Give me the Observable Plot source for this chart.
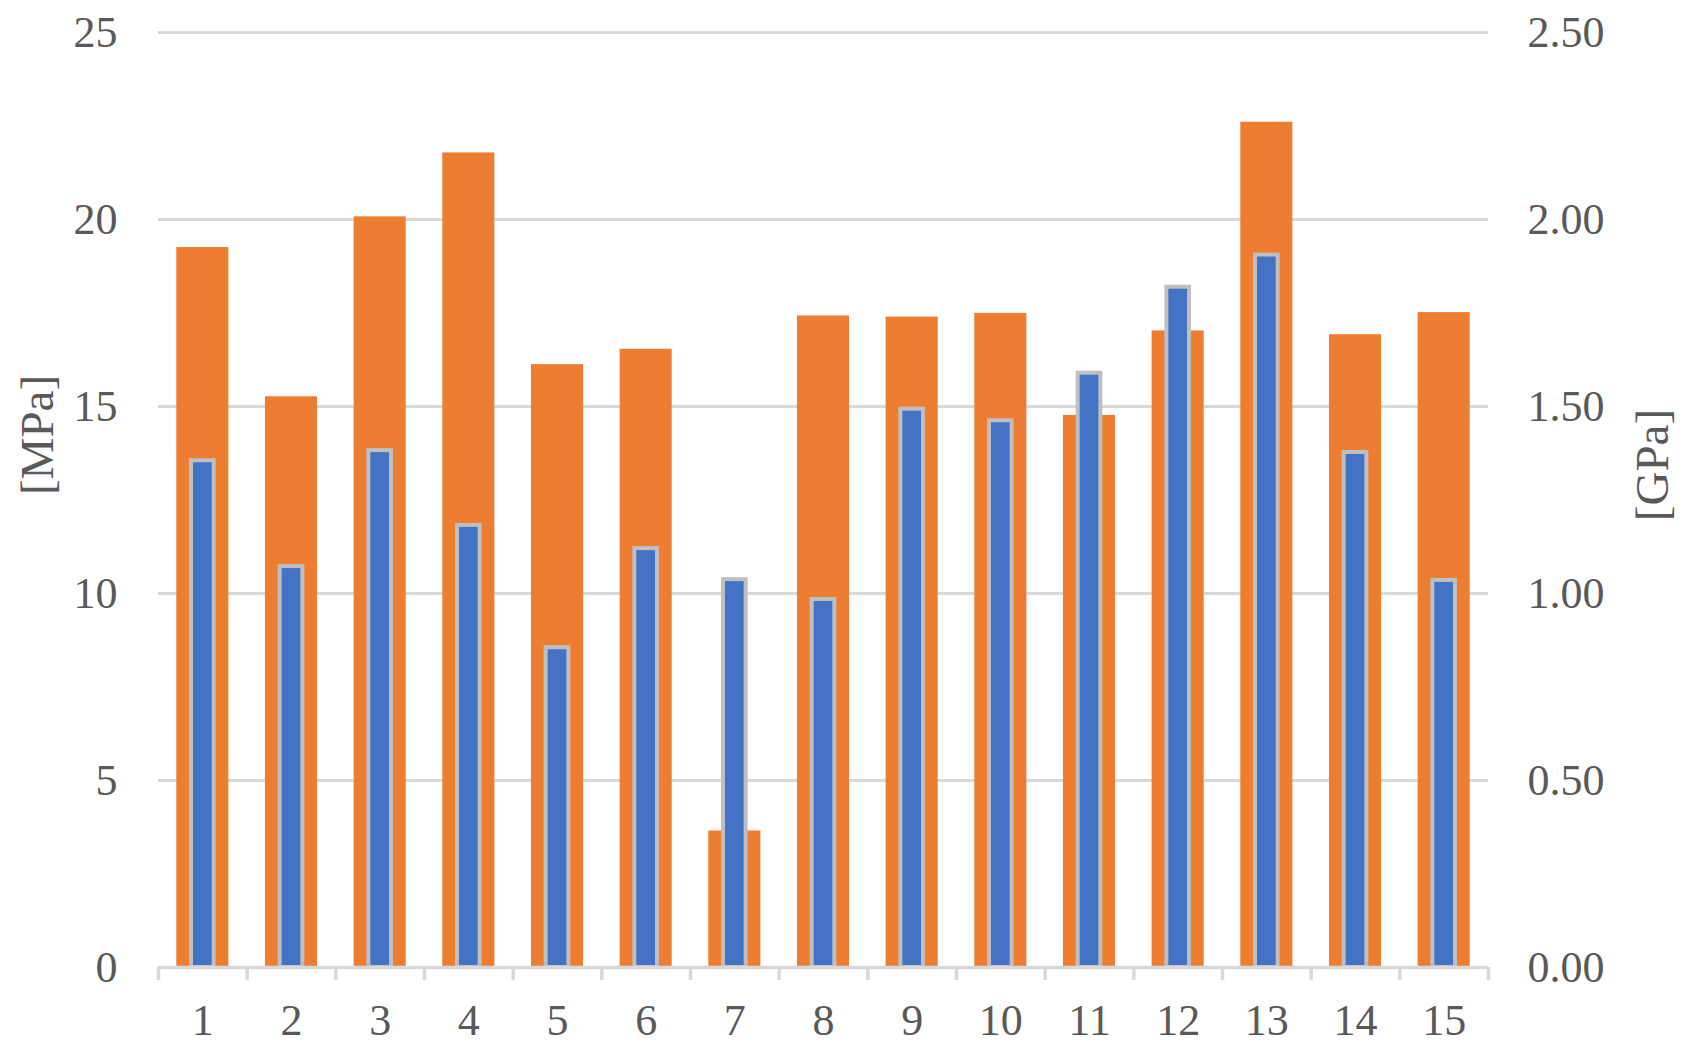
<!DOCTYPE html>
<html>
<head>
<meta charset="utf-8">
<script src="https://cdn.jsdelivr.net/npm/d3@7"></script>
<script src="https://cdn.jsdelivr.net/npm/@observablehq/plot@0.6"></script>
<style>
  html, body { margin: 0; padding: 0; background: #ffffff; }
  #chart { width: 1687px; height: 1050px; }
</style>
</head>
<body>
<div id="chart"></div>
<script>
// Sample numbers (x categories)
const samples = [1, 2, 3, 4, 5, 6, 7, 8, 9, 10, 11, 12, 13, 14, 15];
// Orange series, left axis [MPa]
const strengthMPa = [19.25, 15.26, 20.07, 21.78, 16.12, 16.53, 3.65, 17.42, 17.39, 17.49, 14.76, 17.02, 22.60, 16.92, 17.51];
// Blue series, right axis [GPa]
const modulusGPa = [1.355, 1.072, 1.382, 1.182, 0.855, 1.120, 1.037, 0.984, 1.493, 1.462, 1.589, 1.819, 1.905, 1.377, 1.035];
// Axis ticks
const mpaTicks = [0, 5, 10, 15, 20, 25];
const gpaTickLabels = ["0.00", "0.50", "1.00", "1.50", "2.00", "2.50"];
const leftTitle = "[MPa]";
const rightTitle = "[GPa]";

// ratio between the two y axes (25 MPa <-> 2.50 GPa)
const axisRatio = 10;

const rows = samples.map((s, i) => ({sample: s, mpa: strengthMPa[i], gpa: modulusGPa[i]}));
const boundaries = [samples[0] - 0.5, ...samples.map(s => s + 0.5)];

const grey = "#d9d9d9";
const textColor = "#595959";
const font = "Liberation Serif, Times New Roman, serif";
const fs = 44;

const chart = Plot.plot({
  width: 1687,
  height: 1050,
  marginLeft: 158,
  marginRight: 199,
  marginTop: 32,
  marginBottom: 83,
  style: {fontFamily: font, fontSize: fs + "px", background: "#ffffff", overflow: "visible"},
  x: {type: "linear", domain: [samples[0] - 0.5, samples[samples.length - 1] + 0.5], axis: null},
  y: {domain: [mpaTicks[0], mpaTicks[mpaTicks.length - 1]], axis: null},
  marks: [
    Plot.ruleY(mpaTicks.filter(t => t > 0), {stroke: grey, strokeWidth: 3}),
    Plot.rectY(rows, {
      x1: d => d.sample - 0.5, x2: d => d.sample + 0.5, y: "mpa",
      insetLeft: 18.3, insetRight: 18.3, fill: "#ED7D31"
    }),
    Plot.rectY(rows, {
      x1: d => d.sample - 0.5, x2: d => d.sample + 0.5, y: d => d.gpa * axisRatio,
      insetLeft: 33, insetRight: 33, fill: "#4472C4", stroke: "#BFBFBF", strokeWidth: 4
    }),
    Plot.ruleY([0], {stroke: grey, strokeWidth: 3.5}),
    Plot.axisX(boundaries, {
      anchor: "bottom", tickSize: 13, tickPadding: 0, stroke: grey, strokeWidth: 3.5,
      tickFormat: () => "", label: null
    }),
    Plot.axisX(samples, {
      anchor: "bottom", tickSize: 0, tickPadding: 36, color: textColor,
      fontSize: fs, fontFamily: font, label: null
    }),
    Plot.axisY(mpaTicks, {
      anchor: "left", tickSize: 0, tickPadding: 41, color: textColor,
      fontSize: fs, fontFamily: font, label: null
    }),
    Plot.axisY(mpaTicks, {
      anchor: "right", tickSize: 0, tickPadding: 39, color: textColor,
      fontSize: fs, fontFamily: font, label: null,
      tickFormat: d => gpaTickLabels[mpaTicks.indexOf(d)]
    }),
    Plot.text([leftTitle], {
      frameAnchor: "left", dx: -121, dy: -65, rotate: -90,
      fill: textColor, fontSize: 47, fontFamily: font, textAnchor: "middle", lineAnchor: "middle"
    }),
    Plot.text([rightTitle], {
      frameAnchor: "right", dx: 164, dy: -35, rotate: -90,
      fill: textColor, fontSize: 47, fontFamily: font, textAnchor: "middle", lineAnchor: "middle"
    })
  ]
});

document.getElementById("chart").appendChild(chart);
</script>
</body>
</html>
